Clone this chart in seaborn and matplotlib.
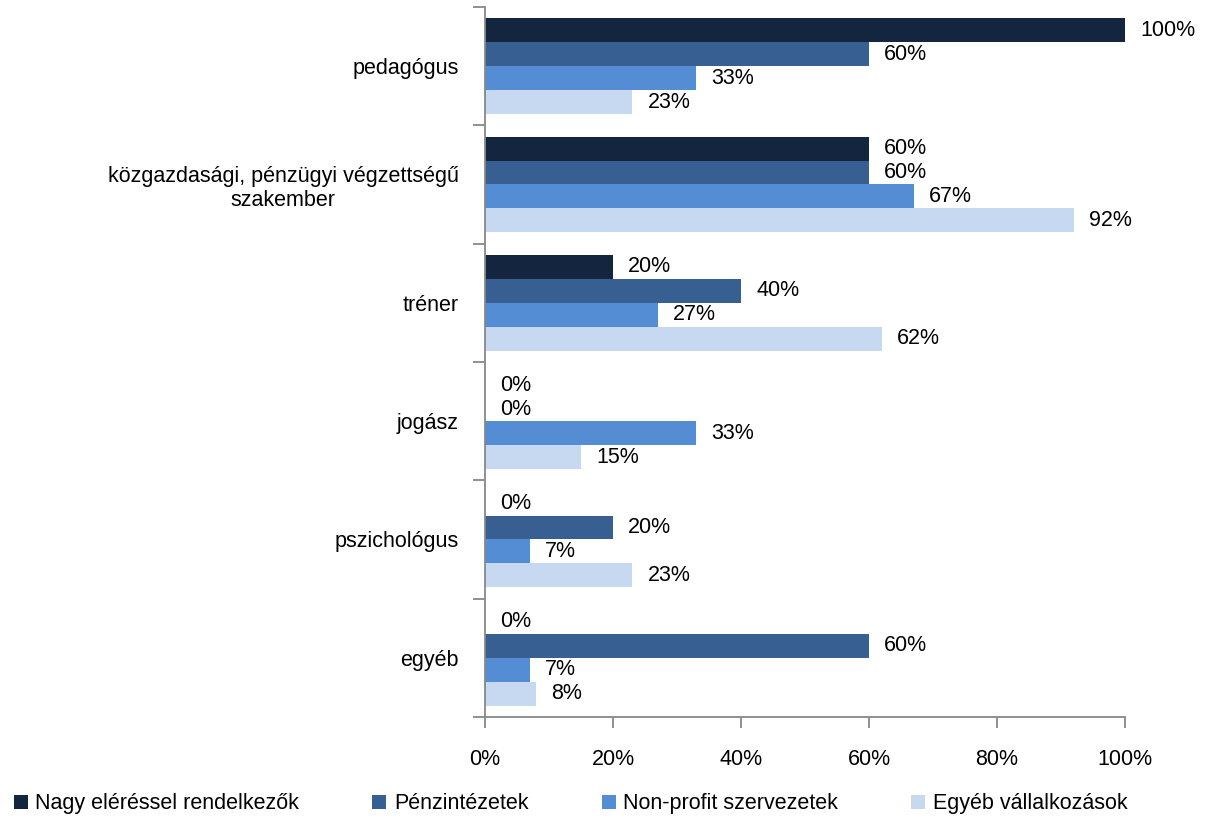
import matplotlib
matplotlib.use("Agg")
import matplotlib.pyplot as plt
import seaborn as sns
import pandas as pd
import numpy as np
from matplotlib.patches import Patch

categories = ["pedagógus", "közgazdasági, pénzügyi végzettségű\nszakember", "tréner",
              "jogász", "pszichológus", "egyéb"]
series = ["Nagy eléréssel rendelkezők", "Pénzintézetek", "Non-profit szervezetek", "Egyéb vállalkozások"]
nagy = [100, 60, 20, 0, 0, 0]
penz = [60, 60, 40, 0, 20, 60]
nonprofit = [33, 67, 27, 33, 7, 7]
egyeb = [23, 92, 62, 15, 23, 8]
colors = ["#14253f", "#375f91", "#548dd4", "#c6d9f0"]
xticks = [0, 20, 40, 60, 80, 100]

rows = []
for s, vals in zip(series, [nagy, penz, nonprofit, egyeb]):
    for c, v in zip(categories, vals):
        rows.append({"cat": c, "series": s, "val": v})
df = pd.DataFrame(rows)

sns.set_theme(style="white")
plt.rcParams['font.family'] = ['Liberation Sans', 'DejaVu Sans']
FS = 15.5

fig = plt.figure(figsize=(12.07, 8.21), dpi=100)
ax = fig.add_axes([0.4018, 0.1267, 0.932 - 0.4018, 0.9915 - 0.1267])
sns.barplot(data=df, y="cat", x="val", hue="series", order=categories, hue_order=series,
            palette=colors, orient="h", width=0.81, ax=ax, legend=False, saturation=1,
            errorbar=None, linewidth=0, edgecolor="none")

for cont in ax.containers:
    ax.bar_label(cont, labels=[f"{int(round(b.get_width()))}%" for b in cont],
                 padding=11, fontsize=FS, color="black")

ax.set_xlim(0, 100)
ax.set_ylim(5.5, -0.5)
ax.set_xticks(xticks)
ax.set_xticklabels([f"{t}%" for t in xticks], fontsize=FS, color="black")
ax.set_yticks(range(len(categories)))
ax.set_yticklabels(categories, fontsize=FS, ha="right", multialignment="center",
                   color="black", linespacing=1.2)
ax.set_xlabel("")
ax.set_ylabel("")
ax.tick_params(axis="y", which="major", length=0, pad=19)
ax.set_yticks(np.arange(-0.5, len(categories), 1.0), minor=True)
ax.tick_params(axis="y", which="minor", length=9, color="#888888", width=1.3, left=True)
ax.tick_params(axis="x", which="major", length=8, color="#888888", width=1.3, bottom=True, pad=15)
for sp in ["top", "right"]:
    ax.spines[sp].set_visible(False)
for sp in ["left", "bottom"]:
    ax.spines[sp].set_color("#888888")
    ax.spines[sp].set_linewidth(1.3)

handles = [Patch(facecolor=c, edgecolor="none") for c in colors]
fig.legend(handles, series, loc="center left", bbox_to_anchor=(-0.001, 0.021), ncol=4, frameon=False,
           fontsize=FS, handlelength=0.65, handleheight=0.65, handletextpad=0.35, columnspacing=3.4,
           borderpad=0.2, labelcolor="black")

fig.savefig("out.png", dpi=100)
